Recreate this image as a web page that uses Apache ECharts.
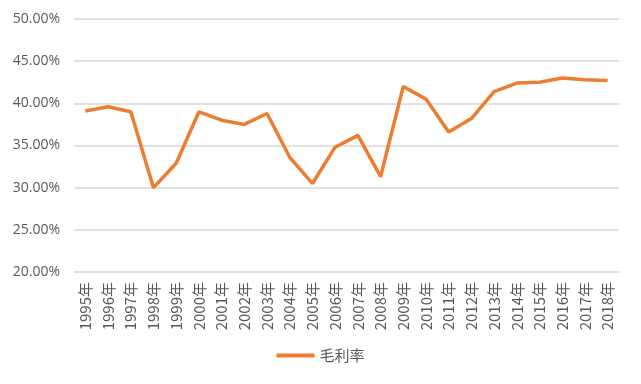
<!DOCTYPE html>
<html><head><meta charset="utf-8">
<script src="https://cdn.jsdelivr.net/npm/echarts@6/dist/echarts.min.js"></script>
<style>html,body{margin:0;padding:0;background:#fff}#c{width:641px;height:384px}</style>
</head><body><div id="c"></div>
<script>
var categories = ['1995年','1996年','1997年','1998年','1999年','2000年','2001年','2002年','2003年','2004年','2005年','2006年','2007年','2008年','2009年','2010年','2011年','2012年','2013年','2014年','2015年','2016年','2017年','2018年'];
var grossMargin = [39.1,39.6,39.0,30.0,32.9,39.0,38.0,37.5,38.8,33.6,30.5,34.8,36.2,31.3,42.0,40.5,36.6,38.2,41.4,42.4,42.5,43.0,42.8,42.7];
var seriesName = '毛利率';
var chart = echarts.init(document.getElementById('c'));
chart.setOption({
  animation:false,
  backgroundColor:'#fff',
  grid:{left:74,right:22,top:19,bottom:112},
  legend:{bottom:16,left:'center',itemWidth:38,itemHeight:4,itemGap:6,
    icon:'rect',
    textStyle:{color:'#595959',fontSize:15,fontFamily:'Noto Sans CJK SC'},
    data:[seriesName]},
  xAxis:{type:'category',data:categories,boundaryGap:true,
    axisLine:{show:false},axisTick:{show:false},
    axisLabel:{rotate:90,interval:0,color:'#595959',fontSize:15,margin:10,fontFamily:'Noto Sans CJK SC'}},
  yAxis:{type:'value',min:20,max:50,interval:5,
    axisLine:{show:false},axisTick:{show:false},
    splitLine:{lineStyle:{color:'#d9d9d9',width:1.5}},
    axisLabel:{color:'#595959',fontSize:14,margin:14,fontFamily:'Open Sans',
      formatter:function(v){return v.toFixed(2)+'%';}}},
  series:[{name:seriesName,type:'line',data:grossMargin,symbol:'none',
    lineStyle:{color:'#ED7D31',width:3.5},itemStyle:{color:'#ED7D31'}}]
});
</script></body></html>
